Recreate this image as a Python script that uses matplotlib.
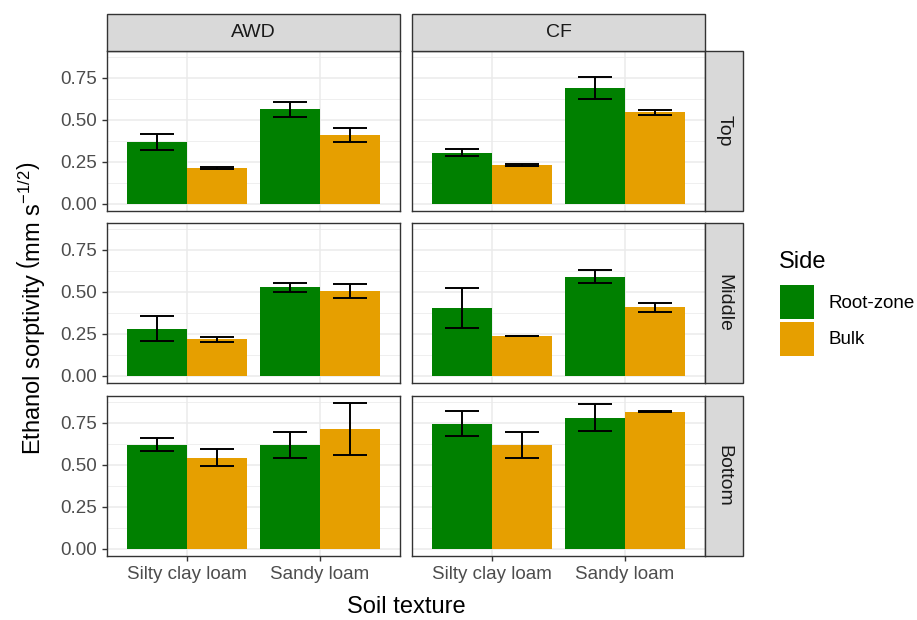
import numpy as np
import matplotlib.pyplot as plt
from matplotlib.patches import Rectangle

plt.rcParams['font.family'] = ['Liberation Sans', 'DejaVu Sans']
plt.rcParams['mathtext.fontset'] = 'custom'
plt.rcParams['mathtext.rm'] = 'Liberation Sans'
plt.rcParams['mathtext.it'] = 'Liberation Sans:italic'

irrigation = ["AWD", "CF"]
depths = ["Top", "Middle", "Bottom"]
textures = ["Silty clay loam", "Sandy loam"]
sides = ["Root-zone", "Bulk"]
side_colors = ["#008000", "#E69F00"]

# rows: Top, Middle, Bottom; cols: AWD-silty, AWD-sandy, CF-silty, CF-sandy
rz_mean = [[0.370, 0.564, 0.305, 0.690],
           [0.280, 0.526, 0.405, 0.590],
           [0.621, 0.617, 0.745, 0.782]]
rz_se = [[0.048, 0.045, 0.019, 0.067],
         [0.074, 0.027, 0.118, 0.039],
         [0.040, 0.076, 0.076, 0.078]]
bulk_mean = [[0.212, 0.410, 0.230, 0.545],
             [0.216, 0.506, 0.236, 0.408],
             [0.543, 0.714, 0.617, 0.816]]
bulk_se = [[0.004, 0.044, 0.004, 0.014],
           [0.017, 0.040, 0.002, 0.028],
           [0.050, 0.153, 0.078, 0.004]]

means = [np.array(rz_mean), np.array(bulk_mean)]
ses = [np.array(rz_se), np.array(bulk_se)]

fig = plt.figure(figsize=(9.17, 6.2), dpi=100)
W, H = 917, 620

col_left = [107, 412]
col_w = 293
row_top = [51, 223, 396]
row_h = 160
strip_h = 37
strip_w = 38

dark = "#333333"
grid_c = "#EBEBEB"
strip_bg = "#D9D9D9"

bar_w = 0.45
x = np.arange(1, len(textures) + 1)
ymax = 0.867 * 1.05
ymin = -0.867 * 0.05

for r, depth in enumerate(depths):
    for c, irr in enumerate(irrigation):
        ax = fig.add_axes([col_left[c] / W, 1 - (row_top[r] + row_h) / H,
                           col_w / W, row_h / H])
        ax.set_xlim(0.4, 2.6)
        ax.set_ylim(ymin, ymax)
        ax.set_axisbelow(True)
        ax.set_yticks([0, 0.25, 0.5, 0.75])
        ax.set_yticks([0.125, 0.375, 0.625, 0.875], minor=True)
        ax.set_xticks(x)
        ax.grid(True, which='major', color=grid_c, lw=1.1)
        ax.grid(True, which='minor', axis='y', color=grid_c, lw=0.55)
        ax.tick_params(which='minor', length=0)
        for sp in ax.spines.values():
            sp.set_color(dark)
            sp.set_linewidth(1.0)
        for k in range(2):
            xs = x - bar_w / 2 + k * bar_w
            m = means[k][r, 2 * c:2 * c + 2]
            s = ses[k][r, 2 * c:2 * c + 2]
            ax.bar(xs, m, width=bar_w, color=side_colors[k], label=sides[k], zorder=2)
            ax.vlines(xs, m - s, m + s, color='black', lw=1.4, zorder=3)
            ax.hlines(m - s, xs - 0.125, xs + 0.125, color='black', lw=1.4, zorder=3)
            ax.hlines(m + s, xs - 0.125, xs + 0.125, color='black', lw=1.4, zorder=3)
        ax.tick_params(colors=dark, labelcolor="#4D4D4D", labelsize=13.5, length=3.5, width=1)
        if c == 0:
            ax.set_yticklabels(["0.00", "0.25", "0.50", "0.75"])
        else:
            ax.tick_params(axis='y', left=False, labelleft=False)
        if r == 2:
            ax.set_xticklabels(textures)
        else:
            ax.tick_params(axis='x', bottom=False, labelbottom=False)

        # strips
        if r == 0:
            fig.patches.append(Rectangle((col_left[c] / W, 1 - row_top[0] / H),
                                         col_w / W, strip_h / H, transform=fig.transFigure,
                                         facecolor=strip_bg, edgecolor=dark, lw=1.0))
            fig.text((col_left[c] + col_w / 2) / W, 1 - (row_top[0] - strip_h / 2) / H, irr,
                     ha='center', va='center', fontsize=14, color="#1A1A1A")
        if c == 1:
            x0 = col_left[1] + col_w
            fig.patches.append(Rectangle((x0 / W, 1 - (row_top[r] + row_h) / H),
                                         strip_w / W, row_h / H, transform=fig.transFigure,
                                         facecolor=strip_bg, edgecolor=dark, lw=1.0))
            fig.text((x0 + strip_w / 2) / W, 1 - (row_top[r] + row_h / 2) / H, depth,
                     ha='center', va='center', rotation=-90, fontsize=14, color="#1A1A1A")

fig.text(31 / W, 1 - 308 / H,
         r"Ethanol sorptivity $\left(\mathrm{mm\ s}^{-1/2}\right)$", rotation=90,
         ha='center', va='center', fontsize=17)
fig.text(406 / W, 1 - 607 / H, "Soil texture", ha='center', va='center', fontsize=17)

# legend
fig.text(779 / W, 1 - 262 / H, "Side", ha='left', va='center', fontsize=17)
for k, lab in enumerate(sides):
    y0 = 285 + k * 37
    fig.patches.append(Rectangle((780 / W, 1 - (y0 + 34) / H), 34 / W, 34 / H,
                                 transform=fig.transFigure, facecolor=side_colors[k],
                                 edgecolor='none'))
    fig.text(828 / W, 1 - (y0 + 18) / H, lab, ha='left', va='center', fontsize=13.5)

fig.savefig("out.png", dpi=100)
